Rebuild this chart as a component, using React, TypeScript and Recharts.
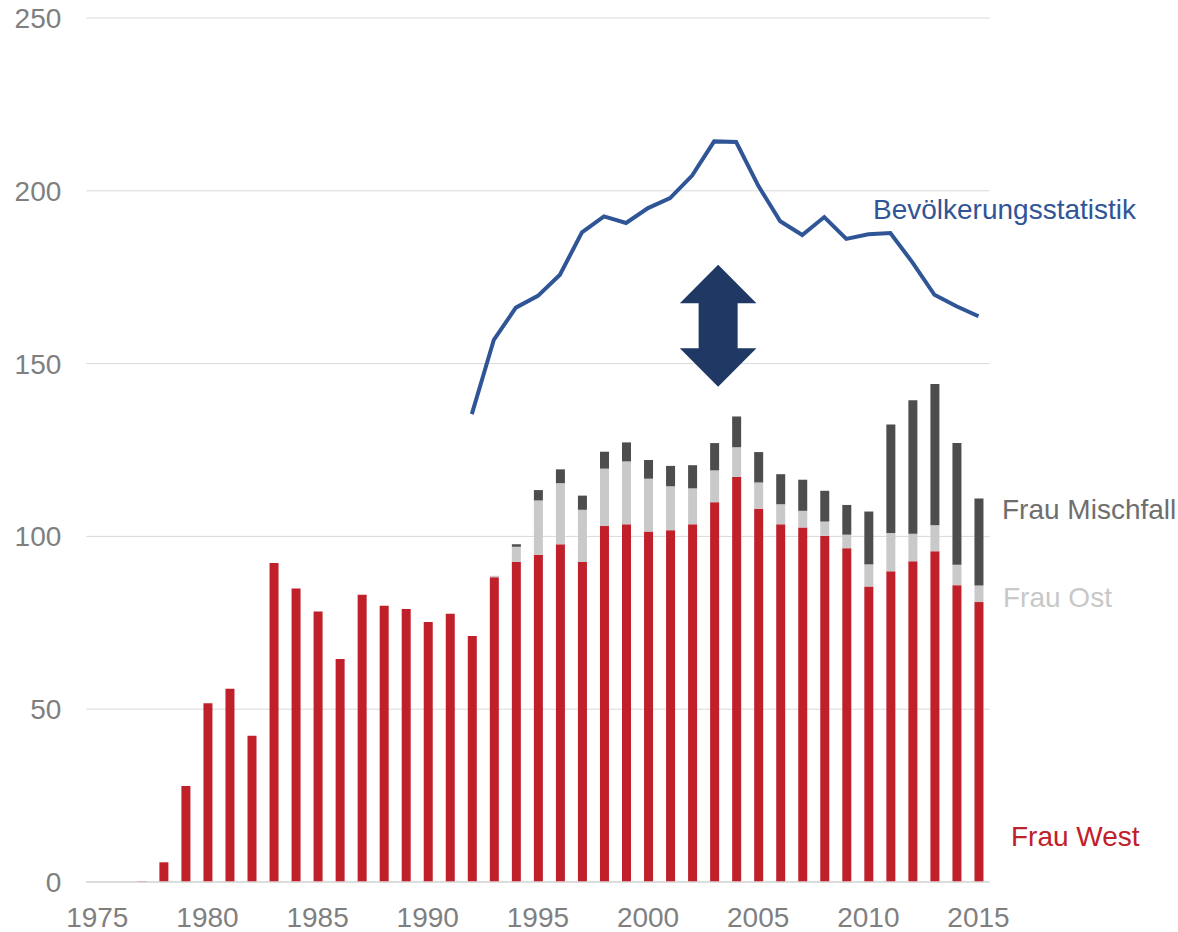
import React from 'react';
import {
  ComposedChart,
  Bar,
  Line,
  XAxis,
  YAxis,
  CartesianGrid,
  ReferenceArea,
  Customized,
} from 'recharts';

const years: number[] = [
  1975, 1976, 1977, 1978, 1979, 1980, 1981, 1982, 1983, 1984, 1985, 1986, 1987, 1988,
  1989, 1990, 1991, 1992, 1993, 1994, 1995, 1996, 1997, 1998, 1999, 2000, 2001, 2002,
  2003, 2004, 2005, 2006, 2007, 2008, 2009, 2010, 2011, 2012, 2013, 2014, 2015,
];

const frauWest: number[] = [
  0, 0, 0.2, 5.7, 27.8, 51.7, 55.9, 42.3, 92.3, 84.9, 78.3, 64.5, 83.1, 79.9,
  79.0, 75.2, 77.6, 71.2, 88.2, 92.6, 94.7, 97.7, 92.6, 103.0, 103.5, 101.4, 101.8, 103.5,
  109.9, 117.2, 108.0, 103.5, 102.6, 100.2, 96.6, 85.5, 89.9, 92.8, 95.7, 85.9, 81.0,
];

const frauOst: number[] = [
  0, 0, 0, 0, 0, 0, 0, 0, 0, 0, 0, 0, 0, 0,
  0, 0, 0, 0, 0.4, 4.4, 15.7, 17.7, 15.1, 16.6, 18.2, 15.3, 12.7, 10.4,
  9.2, 8.6, 7.6, 5.8, 4.8, 4.1, 3.9, 6.4, 11.1, 8.0, 7.5, 5.9, 4.8,
];

const frauMischfall: number[] = [
  0, 0, 0, 0, 0, 0, 0, 0, 0, 0, 0, 0, 0, 0,
  0, 0, 0, 0, 0, 0.7, 3.0, 4.0, 4.1, 4.9, 5.5, 5.4, 5.9, 6.7,
  7.9, 8.9, 8.8, 8.7, 9.0, 8.9, 8.6, 15.3, 31.4, 38.6, 40.9, 35.2, 25.2,
];

const bevoelkerung: (number | null)[] = [
  null, null, null, null, null, null, null, null, null, null, null, null, null, null,
  null, null, null, 135.4, 156.9, 166.2, 169.6, 175.7, 188.0, 192.6, 190.7, 195.0, 197.9, 204.4,
  214.3, 214.1, 201.5, 191.2, 187.2, 192.4, 186.1, 187.4, 187.8, 179.3, 169.9, 166.6, 163.7,
];

const yTicks: number[] = [0, 50, 100, 150, 200, 250];

const arrowYear = '2003';
const arrowTop = 178.6;
const arrowBottom = 143.3;

const data = years.map((y, i) => ({
  year: String(y),
  west: frauWest[i],
  ost: frauOst[i],
  misch: frauMischfall[i],
  bev: bevoelkerung[i],
}));

const FONT = '"Liberation Sans", Arial, sans-serif';
const RED = '#C0202A';
const OST = '#C9C9C9';
const MISCH = '#4D4D4D';
const BLUE = '#2F5597';
const NAVY = '#1F3864';
const GRID = '#D9D9D9';
const TICK = '#7F7F7F';

const ArrowShape = (props: any) => {
  const { x, y, width, height } = props;
  const cx = x + width / 2 + 4;
  const top = y;
  const h = height;
  const bottom = y + h;
  const headH = h * 0.316;
  const headW = 38.3;
  const shaftW = 19.5;
  const pts = [
    [cx, top],
    [cx + headW, top + headH],
    [cx + shaftW, top + headH],
    [cx + shaftW, bottom - headH],
    [cx + headW, bottom - headH],
    [cx, bottom],
    [cx - headW, bottom - headH],
    [cx - shaftW, bottom - headH],
    [cx - shaftW, top + headH],
    [cx - headW, top + headH],
  ]
    .map((p) => p.join(','))
    .join(' ');
  return <polygon points={pts} fill={NAVY} />;
};

const Labels = () => (
  <g style={{ fontFamily: FONT }} fontSize={28}>
    <text x={873} y={219} fill={BLUE}>Bevölkerungsstatistik</text>
    <text x={1002} y={519} fill="#6E6E6E">Frau Mischfall</text>
    <text x={1003} y={607} fill="#C8C8C8">Frau Ost</text>
    <text x={1011} y={846} fill={RED}>Frau West</text>
  </g>
);

export default function App() {
  return (
    <div style={{ position: 'absolute', left: 0, top: 0, width: 1178, height: 932, background: '#fff' }}>
      <ComposedChart
        width={1178}
        height={932}
        data={data}
        margin={{ top: 18, right: 188.5, bottom: 0, left: 0 }}
        style={{ fontFamily: FONT }}
      >
        <CartesianGrid vertical={false} stroke={GRID} strokeWidth={1} />
        <XAxis
          dataKey="year"
          type="category"
          interval={4}
          height={50}
          tickSize={0}
          tickMargin={25}
          tickLine={false}
          axisLine={{ stroke: GRID, strokeWidth: 1.5 }}
          tick={{ fill: TICK, fontSize: 28, fontFamily: FONT }}
        />
        <YAxis
          type="number"
          domain={[0, 250]}
          ticks={yTicks}
          width={86.3}
          tickSize={0}
          tickMargin={25}
          tickLine={false}
          axisLine={false}
          tick={{ fill: TICK, fontSize: 28, fontFamily: FONT }}
        />
        <Bar dataKey="west" stackId="a" fill={RED} barSize={9} isAnimationActive={false} />
        <Bar dataKey="ost" stackId="a" fill={OST} barSize={9} isAnimationActive={false} />
        <Bar dataKey="misch" stackId="a" fill={MISCH} barSize={9} isAnimationActive={false} />
        <Line
          dataKey="bev"
          type="linear"
          stroke={BLUE}
          strokeWidth={4}
          dot={false}
          activeDot={false}
          connectNulls={false}
          isAnimationActive={false}
        />
        <ReferenceArea
          x1={arrowYear}
          x2={arrowYear}
          y1={arrowBottom}
          y2={arrowTop}
          shape={ArrowShape}
        />
        <Customized component={Labels} />
      </ComposedChart>
    </div>
  );
}
